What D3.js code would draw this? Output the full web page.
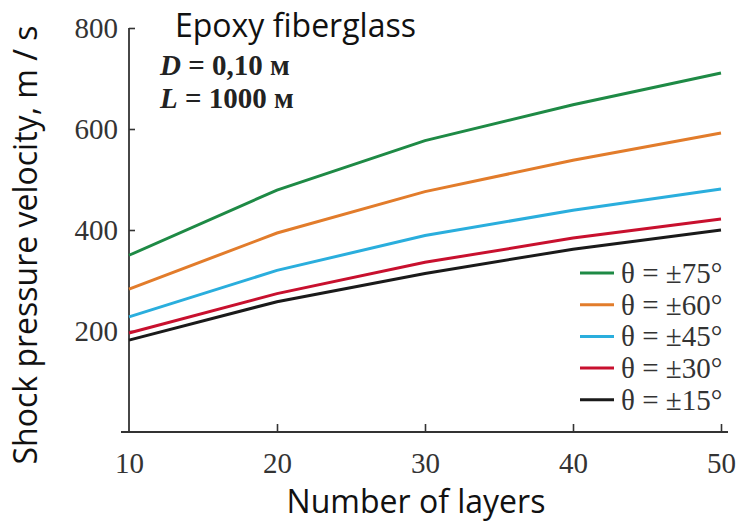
<!DOCTYPE html>
<html><head><meta charset="utf-8">
<script src="https://cdn.jsdelivr.net/npm/d3@7"></script>
<style>body{margin:0;background:#fff}</style>
</head><body>
<svg id="c" width="738" height="524"></svg>
<script>
const layers = [10, 20, 30, 40, 50];
const seriesNames = ["θ = ±75°", "θ = ±60°", "θ = ±45°", "θ = ±30°", "θ = ±15°"];
const v75 = [350, 479, 577, 648, 711];
const v60 = [283, 394, 476, 538, 592];
const v45 = [228, 320, 389, 439, 481];
const v30 = [196, 274, 336, 384, 422];
const v15 = [182, 258, 314, 362, 400];
const colors = ["#1e8a45", "#e27c2b", "#2aaedd", "#c8102e", "#1a1a1a"];
const xTicks = [10, 20, 30, 40, 50];
const yTicks = [200, 400, 600, 800];

const values = [v75, v60, v45, v30, v15];
const svg = d3.select("#c");
const x = d3.scaleLinear().domain([10, 50]).range([129, 721]);
const y = d3.scaleLinear().domain([0, 800]).range([432, 28]);
const serif = "'Liberation Serif', serif";
const tickFont = "'Liberation Serif', serif";
const sans = "'Open Sans', Lato, sans-serif";

// axes
const xAxis = svg.append("g").attr("transform", "translate(0,432)")
  .call(d3.axisBottom(x).tickValues(xTicks).tickSize(-8).tickPadding(20));
const yAxis = svg.append("g").attr("transform", "translate(129,0)")
  .call(d3.axisLeft(y).tickValues(yTicks).tickSize(-6).tickPadding(14));
[xAxis, yAxis].forEach(g => {
  g.selectAll("path.domain").remove();
  g.selectAll("line").attr("stroke", "#333").attr("stroke-width", 1.6);
  g.selectAll("text").attr("font-family", tickFont).attr("font-size", 29).attr("fill", "#333");
});
xAxis.select(".tick line").remove();
xAxis.selectAll("text").attr("y", 20);
// axis lines
svg.append("line").attr("x1", 121).attr("x2", 728).attr("y1", 432).attr("y2", 432).attr("stroke", "#333").attr("stroke-width", 1.8);
svg.append("line").attr("x1", 129).attr("x2", 129).attr("y1", y(800)).attr("y2", 432).attr("stroke", "#333").attr("stroke-width", 1.8);
yAxis.selectAll("text").attr("x", -11);

// lines
const line = d3.line().x((d, i) => x(layers[i])).y(d => y(d));
values.forEach((vals, k) => {
  svg.append("path").datum(vals).attr("d", line)
    .attr("fill", "none").attr("stroke", colors[k]).attr("stroke-width", 3);
});

// titles
svg.append("text").attr("x", 416).attr("y", 513).attr("text-anchor", "middle")
  .attr("font-family", sans).attr("font-size", 32).attr("fill", "#111").text("Number of layers");
svg.append("text").attr("transform", "translate(37,245) rotate(-90)").attr("text-anchor", "middle")
  .attr("font-family", sans).attr("font-size", 32).attr("fill", "#111").text("Shock pressure velocity, m / s");
svg.append("text").attr("x", 175).attr("y", 37).attr("font-family", sans).attr("font-size", 32)
  .attr("fill", "#111").text("Epoxy fiberglass");
const t1 = svg.append("text").attr("x", 160).attr("y", 75).attr("font-family", serif)
  .attr("font-size", 29).attr("font-weight", "bold").attr("fill", "#222");
t1.append("tspan").attr("font-style", "italic").text("D");
t1.append("tspan").text(" = 0,10 м");
const t2 = svg.append("text").attr("x", 160).attr("y", 108).attr("font-family", serif)
  .attr("font-size", 29).attr("font-weight", "bold").attr("fill", "#222");
t2.append("tspan").attr("font-style", "italic").text("L");
t2.append("tspan").text(" = 1000 м");

// legend
const leg = svg.append("g");
seriesNames.forEach((name, k) => {
  const yy = 273 + k * 31.7;
  leg.append("line").attr("x1", 580).attr("x2", 614).attr("y1", yy).attr("y2", yy)
    .attr("stroke", colors[k]).attr("stroke-width", 3);
  leg.append("text").attr("x", 621).attr("y", yy + 10).attr("font-family", tickFont)
    .attr("font-size", 29).attr("fill", "#333").text(name);
});
</script>
</body></html>
